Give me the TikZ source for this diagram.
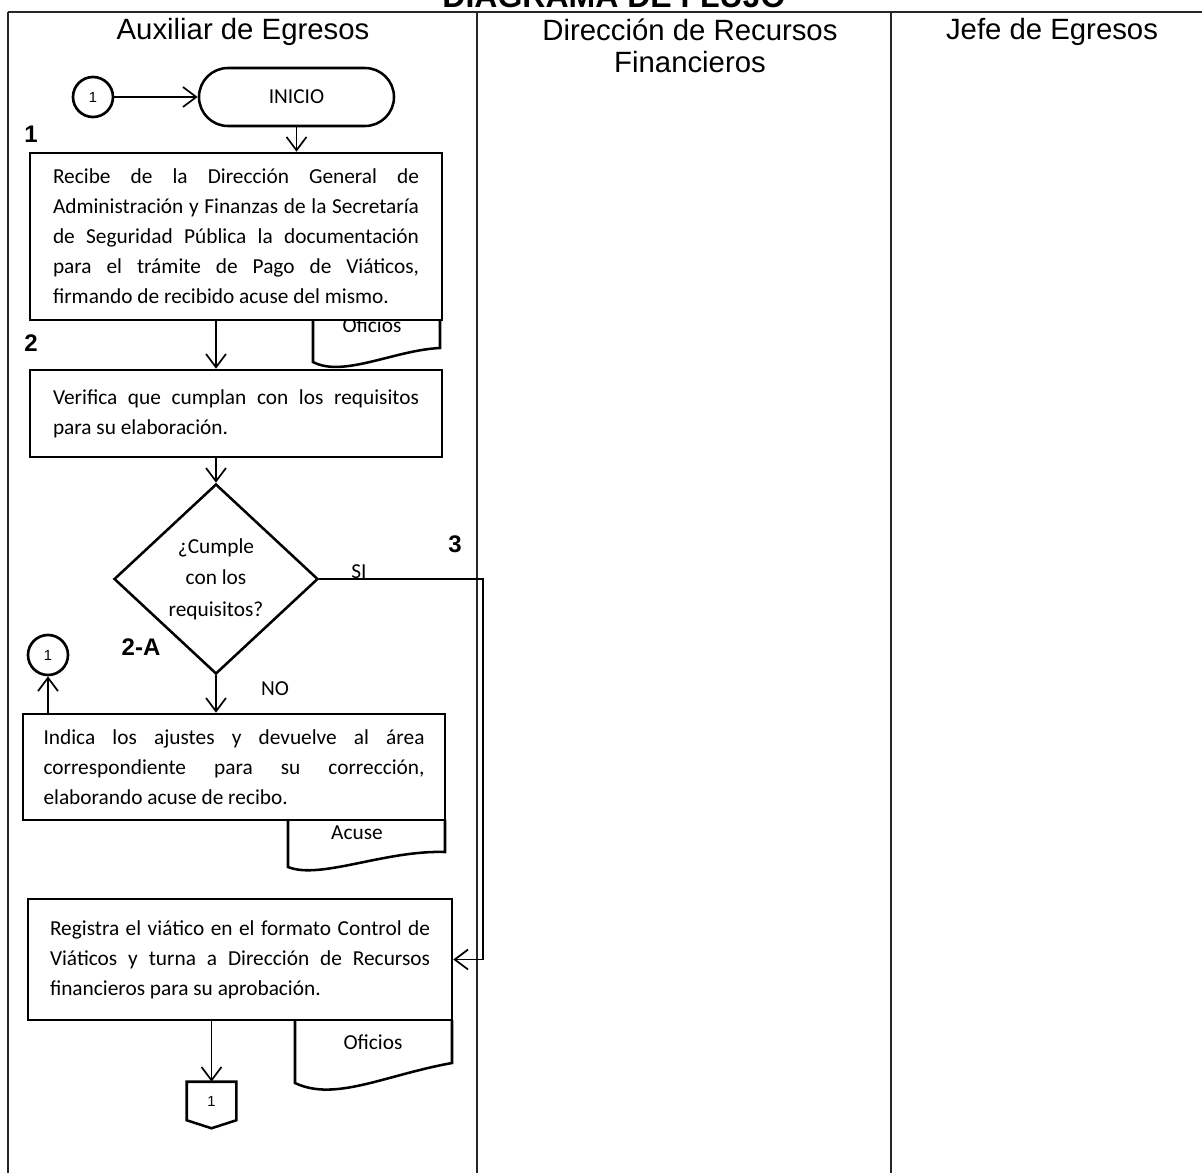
\documentclass[tikz,border=0pt]{standalone}
\usepackage{fontspec}
\setmainfont{Carlito}
\newfontfamily\arialf{Liberation Sans}
\usetikzlibrary{shapes.geometric,arrows.meta}
\newcommand\bodyf{\fontsize{16pt}{22.5pt}\selectfont}
\newcommand\numf{\arialf\bfseries\fontsize{18pt}{20pt}\selectfont}
\newcommand\hdrf{\arialf\fontsize{22pt}{24pt}\selectfont}
\begin{document}
\begin{tikzpicture}[x=0.75pt,y=-0.75pt,
  frameline/.style={line width=0.9pt, draw=black!85},
  hdr/.style={font=\hdrf, inner sep=0pt, align=center},
  box/.style={draw, line width=1.9pt, fill=white, inner sep=0pt, align=justify, font=\bodyf,
    execute at begin node={\hyphenpenalty=10000\exhyphenpenalty=10000\tolerance=10000}},
  docline/.style={line width=1.9pt},
  lbl/.style={font=\bodyf, inner sep=0pt},
  num/.style={font=\numf, inner sep=0pt},
  conn/.style={line width=1.3pt, -{Straight Barb[length=10pt,width=15pt,line width=1.3pt]}},
  circ/.style={draw, circle, line width=2pt, minimum size=30pt, inner sep=0pt, font=\arialf\fontsize{11pt}{12pt}\selectfont}
]
\useasboundingbox (0,0) rectangle (1202,1173);
% title (cut off at top)
\node[anchor=base, inner sep=0pt, font=\arialf\bfseries\fontsize{24pt}{26pt}\selectfont] (title) at (614,8) {DIAGRAMA DE FLUJO};
% frame and lanes
\draw[frameline] (8,12) -- (1202,12);
\draw[frameline] (8,12) -- (8,1173);
\draw[frameline] (477,12) -- (477,1173);
\draw[frameline] (891,12) -- (891,1173);
% headers
\node[hdr, anchor=base] (h1) at (243,40) {Auxiliar de Egresos};
\node[hdr, anchor=north] (h2) at (690,19) {Dirección de Recursos\\Financieros};
\node[hdr, anchor=base] (h3) at (1052,40) {Jefe de Egresos};
% documents (behind boxes)
\node[lbl] (d1t) at (372,325) {Oficios};
\draw[docline] (313,320) -- (313,362) .. controls (343,378) and (395,350) .. (440,348) -- (440,320);
\node[lbl] (d2t) at (357,833) {Acuse};
\draw[docline] (288,820) -- (288,867) .. controls (320,880) and (385,850) .. (445,852) -- (445,820);
\node[lbl] (d3t) at (373,1042) {Oficios};
\draw[docline] (295,1020) -- (295,1083) .. controls (335,1102) and (385,1075) .. (452,1063) -- (452,1020);
% nodes
\node[circ] (c1) at (93,97) {1};
\node[draw, line width=1.9pt, rounded corners=21.75pt, minimum width=146.25pt, minimum height=43.5pt, font=\bodyf] (inicio) at (296.5,97) {INICIO};
\node[box, minimum width=309pt, minimum height=125.25pt, text width=274.5pt] (b1) at (236,236.5)
 {Recibe de la Dirección General de\linebreak Administración y Finanzas de la Secretaría\linebreak de Seguridad Pública la documentación\linebreak para el trámite de Pago de Viáticos,\linebreak firmando de recibido acuse del mismo.};
\node[box, minimum width=309pt, minimum height=65.25pt, text width=274.5pt] (b2) at (236,413.5)
 {Verifica que cumplan con los requisitos\linebreak para su elaboración.};
\node[draw, diamond, line width=1.9pt, minimum width=153pt, minimum height=142.5pt, inner sep=0pt, align=center, font={\fontsize{16pt}{23.5pt}\selectfont}] (dia) at (216,579)
 {¿Cumple\\con los\\requisitos?};
\node[circ] (c2) at (48,655) {1};
\node[box, minimum width=316.5pt, minimum height=79.5pt, text width=285.75pt] (b3) at (234,767)
 {Indica los ajustes y devuelve al área\linebreak correspondiente para su corrección,\linebreak elaborando acuse de recibo.};
\node[box, minimum width=318pt, minimum height=90.75pt, text width=285pt] (b4) at (240,959.5)
 {Registra el viático en el formato Control de\linebreak Viáticos y turna a Dirección de Recursos\linebreak financieros para su aprobación.};
\node[inner sep=0pt, minimum width=36.75pt, minimum height=28.5pt, font=\arialf\fontsize{11pt}{12pt}\selectfont] (offp) at (211.5,1101) {1};
\draw[line width=1.9pt, line join=miter] (offp.north west) -- (offp.north east) -- (offp.south east) -- ([yshift=-6pt]offp.south) -- (offp.south west) -- cycle;
% step numbers and labels
\node[num] (s1) at (31,134) {1};
\node[num] (s2) at (31,343) {2};
\node[num] (s3) at (455,544) {3};
\node[num] (s2a) at (141,647) {2-A};
\node[lbl] (si) at (359,572) {SI};
\node[lbl] (no) at (275,689) {NO};
% connectors
\draw[conn] (c1.east) -- (inicio.west);
\draw[conn] (inicio.south) -- (inicio.south |- b1.north);
\draw[conn] (b1.south -| dia.north) -- (b2.north -| dia.north);
\draw[conn] (b2.south -| dia.north) -- (dia.north);
\draw[conn] (dia.south) -- (dia.south |- b3.north);
\draw[conn] (b3.north -| c2.south) -- (c2.south);
\coordinate (siturn) at (483,579);
\draw[conn] (dia.east) -- (siturn) |- (b4.east);
\draw[conn] (b4.south -| offp.north) -- (offp.north);
\end{tikzpicture}
\end{document}
